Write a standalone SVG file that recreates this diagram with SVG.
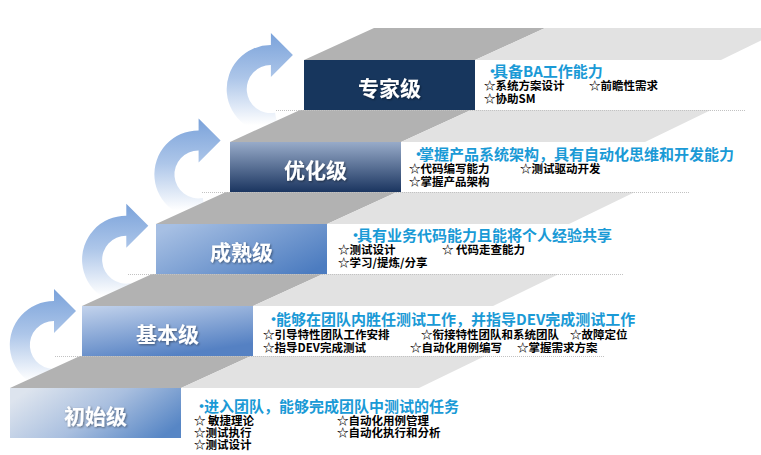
<svg xmlns="http://www.w3.org/2000/svg" width="761" height="455" viewBox="0 0 761 455">
<defs>
  <linearGradient id="arrowGrad" x1="0" y1="0" x2="0" y2="1">
    <stop offset="0" stop-color="#7aa2da"/>
    <stop offset="0.45" stop-color="#adc6e9"/>
    <stop offset="0.92" stop-color="#ffffff"/>
  </linearGradient>
  <linearGradient id="g0" x1="0" y1="0.3" x2="1" y2="0.7">
    <stop offset="0" stop-color="#dde4ee"/>
    <stop offset="0.5" stop-color="#a9bfdf"/>
    <stop offset="1" stop-color="#5786c5"/>
  </linearGradient>
  <linearGradient id="g1" x1="0" y1="0" x2="0.5" y2="1">
    <stop offset="0" stop-color="#c3d3ec"/>
    <stop offset="1" stop-color="#5581c3"/>
  </linearGradient>
  <linearGradient id="g2" x1="0" y1="0.2" x2="1" y2="0.8">
    <stop offset="0" stop-color="#a6bfe3"/>
    <stop offset="1" stop-color="#4c7cc0"/>
  </linearGradient>
  <linearGradient id="g3" x1="0" y1="0" x2="0" y2="1">
    <stop offset="0" stop-color="#98abc9"/>
    <stop offset="1" stop-color="#1b3560"/>
  </linearGradient>
  <filter id="ts" x="-10%" y="-20%" width="130%" height="150%">
    <feDropShadow dx="1" dy="1" stdDeviation="0.8" flood-color="#000" flood-opacity="0.45"/>
  </filter>
  <path id="arc" d="M 61.6 388.3 A 44 44 0 1 1 54 301 L 54 289 L 76 311 L 54 333 L 54 321 A 24 24 0 1 0 58.2 368.6 Z"/>
</defs>
<style>
  .dark{fill:#b2b2b2}
  .light{fill:#e2e2e2}
  .arrow{fill:url(#arrowGrad)}
  .dot{stroke:#c2c2c2;stroke-width:1;stroke-dasharray:1 1;fill:none}
  .lbl{font-family:"Noto Sans CJK SC","Noto Sans",sans-serif;font-size:21px;font-weight:bold;fill:#ffffff;text-anchor:middle}
  .hd{font-family:"Noto Sans CJK SC","Noto Sans",sans-serif;font-size:15px;font-weight:bold;fill:#1a9ad6}
  .it{font-family:"Noto Sans CJK SC","Noto Sans",sans-serif;font-size:11.5px;font-weight:bold;fill:#000000}
</style>
<rect width="761" height="455" fill="#ffffff"/>

<g id="connectors">
  <use href="#arc" class="arrow"/>
  <use href="#arc" class="arrow" transform="translate(72.3,-85.3)"/>
  <use href="#arc" class="arrow" transform="translate(144.6,-170.6)"/>
  <use href="#arc" class="arrow" transform="translate(216.9,-255.9)"/>
</g>

<g id="level-1">
  <polygon class="dark" points="10,388 181,388 251,356 80,356"/>
  <polygon class="light" points="181,388 419,388 485,356 251,356"/>
  <rect x="10" y="388" width="171" height="50" fill="url(#g0)"/>
  <text class="lbl" x="95.5" y="424" filter="url(#ts)">初始级</text>
  <text class="hd" y="412"><tspan x="194">•</tspan><tspan x="204">进入团队，能够完成团队中测试的任务</tspan></text>
  <text class="it" x="194" y="425">☆ 敏捷理论</text>
  <text class="it" x="337" y="425">☆自动化用例管理</text>
  <text class="it" x="194" y="437">☆测试执行</text>
  <text class="it" x="337" y="437">☆自动化执行和分析</text>
  <text class="it" x="194" y="449">☆测试设计</text>
</g>

<g id="level-2">
  <polygon class="dark" points="82,306 253,306 323,274 152,274"/>
  <polygon class="light" points="253,306 493,306 559,274 323,274"/>
  <rect x="82" y="306" width="171" height="50" fill="url(#g1)"/>
  <line class="dot" x1="55" y1="356.5" x2="604" y2="356.5"/>
  <text class="lbl" x="167.5" y="342" filter="url(#ts)">基本级</text>
  <text class="hd" y="325"><tspan x="266">•</tspan><tspan x="276">能够在团队内胜任测试工作，并指导DEV完成测试工作</tspan></text>
  <text class="it" x="263" y="339">☆引导特性团队工作安排</text>
  <text class="it" x="421" y="339">☆衔接特性团队和系统团队</text>
  <text class="it" x="570" y="339">☆故障定位</text>
  <text class="it" x="263" y="352">☆指导DEV完成测试</text>
  <text class="it" x="410" y="352">☆自动化用例编写</text>
  <text class="it" x="517" y="352">☆掌握需求方案</text>
</g>

<g id="level-3">
  <polygon class="dark" points="156,224 327,224 397,192 226,192"/>
  <polygon class="light" points="327,224 569,224 635,192 397,192"/>
  <rect x="156" y="224" width="171" height="50" fill="url(#g2)"/>
  <line class="dot" x1="128" y1="274.5" x2="624" y2="274.5"/>
  <text class="lbl" x="241.5" y="260" filter="url(#ts)">成熟级</text>
  <text class="hd" y="241"><tspan x="348">•</tspan><tspan x="357">具有业务代码能力且能将个人经验共享</tspan></text>
  <text class="it" x="338" y="254">☆测试设计</text>
  <text class="it" x="442" y="254">☆ 代码走查能力</text>
  <text class="it" x="338" y="267">☆学习/提炼/分享</text>
</g>

<g id="level-4">
  <polygon class="dark" points="230,142 401,142 471,110 300,110"/>
  <polygon class="light" points="401,142 645,142 711,110 471,110"/>
  <rect x="230" y="142" width="171" height="50" fill="url(#g3)"/>
  <line class="dot" x1="202" y1="192.5" x2="690" y2="192.5"/>
  <text class="lbl" x="315.5" y="178" filter="url(#ts)">优化级</text>
  <text class="hd" y="160"><tspan x="411">•</tspan><tspan x="419">掌握产品系统架构，具有自动化思维和开发能力</tspan></text>
  <text class="it" x="409" y="173">☆代码编写能力</text>
  <text class="it" x="520" y="173">☆测试驱动开发</text>
  <text class="it" x="409" y="186">☆掌握产品架构</text>
</g>

<g id="level-5">
  <polygon class="dark" points="304,60 475,60 545,28 374,28"/>
  <polygon class="light" points="475,60 721,60 787,28 545,28"/>
  <rect x="304" y="60" width="171" height="50" fill="#17365d"/>
  <line class="dot" x1="276" y1="110.5" x2="745" y2="110.5"/>
  <text class="lbl" x="389.5" y="96" filter="url(#ts)">专家级</text>
  <text class="hd" y="77"><tspan x="485">•</tspan><tspan x="493">具备BA工作能力</tspan></text>
  <text class="it" x="484" y="90">☆系统方案设计</text>
  <text class="it" x="589" y="90">☆前瞻性需求</text>
  <text class="it" x="484" y="103">☆协助SM</text>
</g>
</svg>
